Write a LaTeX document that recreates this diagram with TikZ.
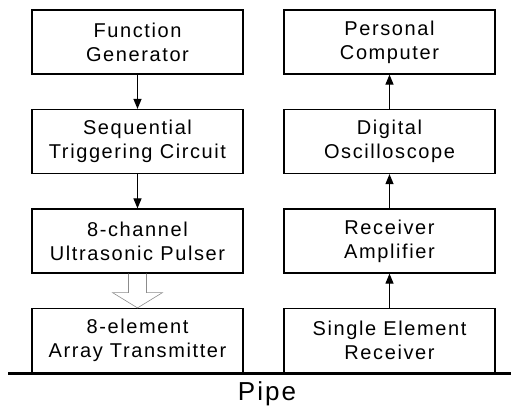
\documentclass[tikz,border=0pt]{standalone}
\usepackage{fontspec}
\setmainfont[LetterSpace=8]{Liberation Sans}
\usetikzlibrary{calc,arrows.meta}
\tikzset{
	blockbox/.style={draw, line width=1.2pt, minimum width=211pt, minimum height=64pt, align=center, inner sep=0pt, font=\fontsize{20}{24}\selectfont},
	sigarrow/.style={line width=1.1pt, -{Triangle[length=10pt,width=8pt]}}
}

\begin{document}
\begin{tikzpicture}[x=1pt, y=-1pt]
		%%%%% START %%%%%
		\useasboundingbox (0, 0) rectangle (511, 415);
		
		\node[blockbox] (fgen) at (137.5, 42) {Function\\Generator};
		\node[blockbox] (trig) at (137.5, 141.5) {Sequential\\Triggering Circuit};
		\node[blockbox] (pulser) at (137.5, 241) {8-channel\\Ultrasonic Pulser};
		\node[blockbox] (trans) at (137.5, 340.5) {8-element\\Array Transmitter};
		
		\node[blockbox] (pc) at (389.5, 42) {Personal\\Computer};
		\node[blockbox] (scope) at (389.5, 141.5) {Digital\\Oscilloscope};
		\node[blockbox] (amp) at (389.5, 241) {Receiver\\Amplifier};
		\node[blockbox] (rec) at (389.5, 340.5) {Single Element\\Receiver};
		
		\draw[sigarrow] (fgen) -- (trig);
		\draw[sigarrow] (trig) -- (pulser);
		\draw[sigarrow] (rec) -- (amp);
		\draw[sigarrow] (amp) -- (scope);
		\draw[sigarrow] (scope) -- (pc);
		
		% hollow arrow to the array
		\draw[line width=0.6pt, color=black!45] ($(pulser.south)+(-9, 0)$) -- ++(0, 19) -- ++(-16, 0) -- (trans.north) -- ($(pulser.south)+(25, 19)$) -- ++(-16, 0) -- ($(pulser.south)+(9, 0)$);
		
		% pipe
		\coordinate (pipeL) at (8, 373);
		\coordinate (pipeR) at (511, 373);
		\draw[line width=3pt] (pipeL) -- (pipeR);
		\node[font=\fontsize{26}{30}\selectfont] (pipe) at (267, 394) {Pipe};
		
		%%%%% END %%%%%
	\end{tikzpicture}
\end{document}
